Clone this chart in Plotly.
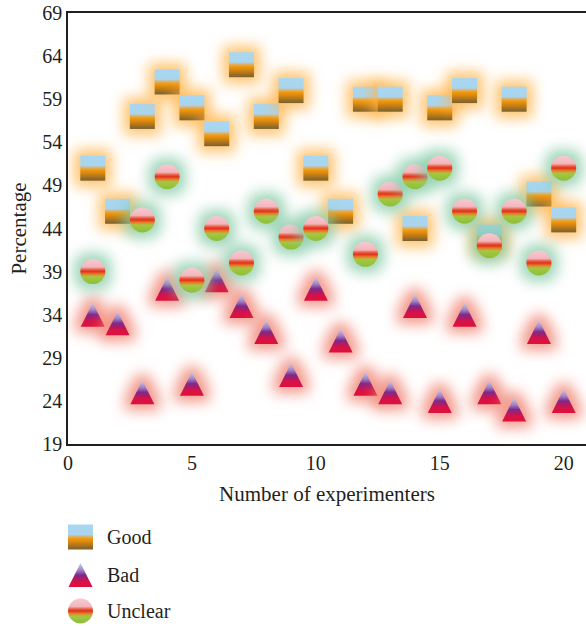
import base64
import plotly.graph_objects as go

# ---- data -------------------------------------------------------------
experimenters = list(range(1, 21))
good = [51, 46, 57, 61, 58, 55, 63, 57, 60, 51, 46, 59, 59, 44, 58, 60, 43, 59, 48, 45]
bad = [34, 33, 25, 37, 26, 38, 35, 32, 27, 37, 31, 26, 25, 35, 24, 34, 25, 23, 32, 24]
unclear = [39, 46, 45, 50, 38, 44, 40, 46, 43, 44, 46, 41, 48, 50, 51, 46, 42, 46, 40, 51]
series_names = ["Good", "Bad", "Unclear"]
x_ticks = [0, 5, 10, 15, 20]
y_ticks = [19, 24, 29, 34, 39, 44, 49, 54, 59, 64, 69]

# ---- geometry ---------------------------------------------------------
W, H = 586, 627
MARGIN = dict(l=68, r=0, t=13, b=183)
X_RANGE = [0, 20.9]
Y_RANGE = [19, 69]
plot_w = W - MARGIN["l"] - MARGIN["r"]
plot_h = H - MARGIN["t"] - MARGIN["b"]
px_per_x = plot_w / (X_RANGE[1] - X_RANGE[0])
px_per_y = plot_h / (Y_RANGE[1] - Y_RANGE[0])

FONT = "Liberation Serif"
INK = "#231f20"

BOX = 100     # sprite canvas in px
HALF = 12.5   # half size of a marker body in px

# ---- styles: vertical gradient stops and halo colour per series ---------
STYLES = {
    "Good": dict(
        shape="square",
        stops=[(0, "#a9d7f1"), (0.4, "#a9d5ee"), (0.48, "#d9b274"),
               (0.57, "#f29a0c"), (0.7, "#d8860f"), (1, "#786030")],
        glow="#ffb347", glow_op=0.8, plain="#f29a0c", end="#786030", size=20),
    "Bad": dict(
        shape="triangle",
        stops=[(0, "#c4d2f2"), (0.3, "#a284c4"), (0.5, "#7c2a8c"),
               (0.66, "#b41862"), (0.78, "#d81242"), (1, "#dc1040")],
        glow="#f07e6c", glow_op=0.8, plain="#9a2070", end="#dc1040", size=12),
    "Unclear": dict(
        shape="circle",
        stops=[(0, "#f7cad2"), (0.32, "#f3b6bd"), (0.43, "#e8583a"),
               (0.5, "#e0321e"), (0.6, "#ea7a2a"), (0.7, "#a6c640"), (1, "#8cbf3a")],
        glow="#84caa6", glow_op=0.8, plain="#e0321e", end="#8cbf3a", size=20),
}


def shape_svg(shape, fill, extra=""):
    c = BOX / 2
    if shape == "square":
        return (f'<rect x="{c - HALF}" y="{c - HALF}" width="{2 * HALF}" '
                f'height="{2 * HALF}" fill="{fill}" {extra}/>')
    if shape == "triangle":
        h = HALF - 0.5
        pts = f"{c},{c - h} {c + h},{c + h} {c - h},{c + h}"
        return f'<polygon points="{pts}" fill="{fill}" {extra}/>'
    return f'<circle cx="{c}" cy="{c}" r="{HALF}" fill="{fill}" {extra}/>'


def to_uri(svg):
    return "data:image/svg+xml;base64," + base64.b64encode(svg.encode()).decode()


def sprite(style, halo=True):
    """Marker sprite: optional soft halo with the gradient body drawn on top."""
    stops = "".join(f'<stop offset="{o}" stop-color="{col}"/>' for o, col in style["stops"])
    defs = (f'<linearGradient id="g" x1="0" y1="0" x2="0" y2="1">{stops}</linearGradient>'
            f'<filter id="f" filterUnits="userSpaceOnUse" x="0" y="0" '
            f'width="{BOX}" height="{BOX}"><feMorphology operator="dilate" radius="6"/>'
            f'<feGaussianBlur stdDeviation="7"/></filter>')
    parts = [f'<svg xmlns="http://www.w3.org/2000/svg" width="{BOX}" height="{BOX}" '
             f'viewBox="0 0 {BOX} {BOX}"><defs>{defs}</defs>']
    if halo:
        parts.append(f'<g opacity="{style["glow_op"]}" filter="url(#f)">'
                     + shape_svg(style["shape"], style["glow"]) + "</g>")
    parts.append(shape_svg(style["shape"], "url(#g)"))
    parts.append("</svg>")
    return to_uri("".join(parts))


values = {"Good": good, "Bad": bad, "Unclear": unclear}

fig = go.Figure()

# scatter traces carry the data points (sprites render the styled markers)
for name in series_names:
    st = STYLES[name]
    fig.add_trace(go.Scatter(
        x=experimenters, y=values[name], mode="markers", name=name,
        showlegend=False,
        marker=dict(symbol={"square": "square", "triangle": "triangle-up",
                            "circle": "circle"}[st["shape"]],
                    size=st["size"], color=st["plain"],
                    gradient=dict(type="vertical", color=st["end"]),
                    line=dict(width=0)),
    ))

images = []
sx, sy = BOX / px_per_x, BOX / px_per_y
for name in series_names:
    uri = sprite(STYLES[name])
    for xv, yv in zip(experimenters, values[name]):
        images.append(dict(source=uri, xref="x", yref="y", x=xv, y=yv,
                           sizex=sx, sizey=sy, xanchor="center", yanchor="middle",
                           sizing="stretch", layer="above"))


def paper_x(px):
    return (px - MARGIN["l"]) / plot_w


def paper_y(py):
    return (H - MARGIN["b"] - py) / plot_h


# legend under the plot: icon + label per series
annotations = []
legend_rows = [537, 575, 611]
for name, py in zip(series_names, legend_rows):
    images.append(dict(source=sprite(STYLES[name], halo=False), xref="paper",
                       yref="paper", x=paper_x(80.5), y=paper_y(py),
                       sizex=BOX / plot_w, sizey=BOX / plot_h, xanchor="center",
                       yanchor="middle", sizing="stretch", layer="above"))
    annotations.append(dict(text=name, xref="paper", yref="paper",
                            x=paper_x(105), y=paper_y(py), xanchor="left",
                            yanchor="middle", showarrow=False,
                            font=dict(family=FONT, size=20, color=INK)))

fig.update_layout(
    width=W, height=H, margin=MARGIN,
    paper_bgcolor="white", plot_bgcolor="white",
    showlegend=False,
    images=images, annotations=annotations,
    font=dict(family=FONT, size=20, color=INK),
    xaxis=dict(range=X_RANGE, tickvals=x_ticks, ticks="", showgrid=False,
               zeroline=False, showline=True, linecolor=INK, linewidth=1.5,
               mirror=True, tickfont=dict(family=FONT, size=20, color=INK),
               title=dict(text="Number of experimenters", standoff=14,
                          font=dict(family=FONT, size=21, color=INK))),
    yaxis=dict(range=Y_RANGE, tickvals=y_ticks, ticks="", showgrid=False,
               zeroline=False, showline=True, linecolor=INK, linewidth=1.5,
               tickfont=dict(family=FONT, size=20, color=INK),
               title=dict(text="Percentage", standoff=10,
                          font=dict(family=FONT, size=21, color=INK))),
)

fig.write_html("out.html")
